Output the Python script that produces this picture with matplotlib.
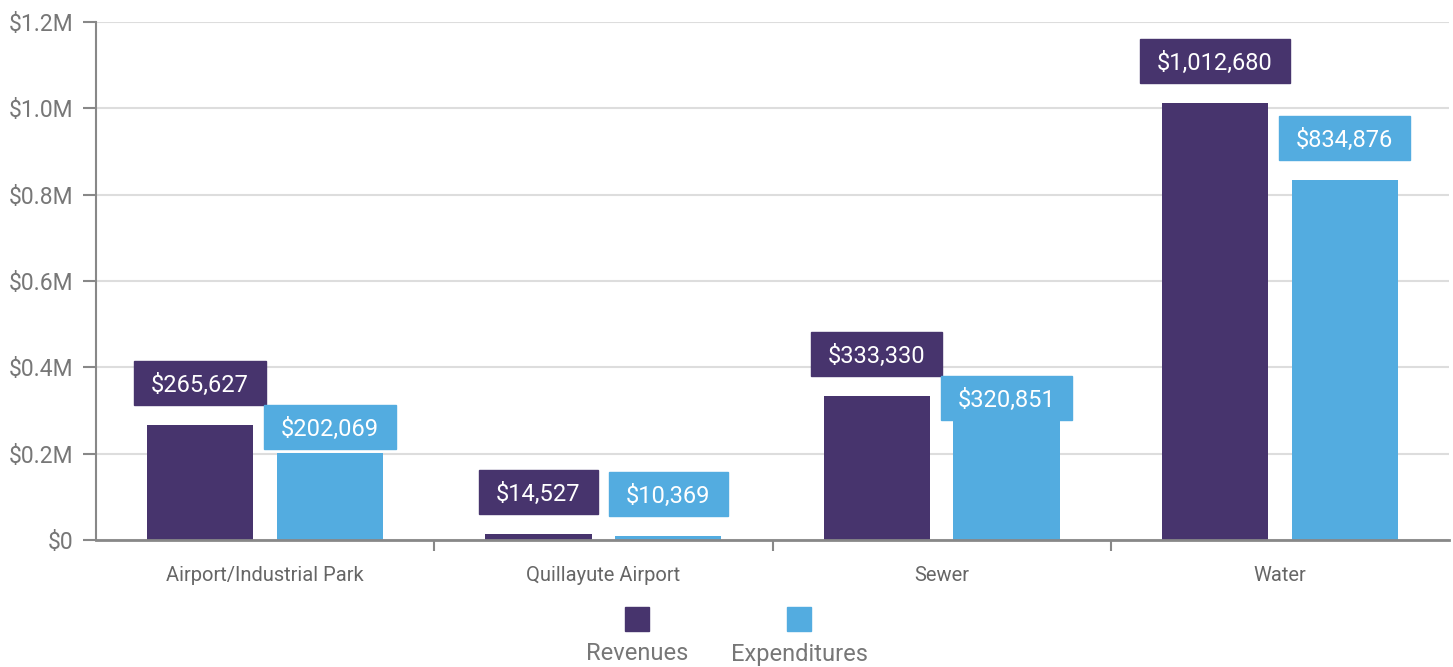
import numpy as np
import matplotlib
matplotlib.use("Agg")
import matplotlib.pyplot as plt
from matplotlib.patches import Rectangle

plt.rcParams["font.family"] = ["Roboto", "DejaVu Sans"]

categories = ["Airport/Industrial Park", "Quillayute Airport", "Sewer", "Water"]
revenues = [265627, 14527, 333330, 1012680]
expenditures = [202069, 10369, 320851, 834876]
series_names = ["Revenues", "Expenditures"]
yticks = [0, 200000, 400000, 600000, 800000, 1000000, 1200000]
ytick_labels = ["$0", "$0.2M", "$0.4M", "$0.6M", "$0.8M", "$1.0M", "$1.2M"]

REV_COLOR = "#47346d"
EXP_COLOR = "#53ace0"
GRID = "#dddddd"
AXIS = "#888888"
TEXT = "#777777"

fig = plt.figure(figsize=(14.53, 6.67), dpi=100)
ax = fig.add_axes([96 / 1453, 1 - 540 / 667, 1353 / 1453, 518 / 667])

x = np.arange(len(categories))
width = 0.314
off = 0.192
ax.bar(x - off, revenues, width, color=REV_COLOR, zorder=2)
ax.bar(x + off, expenditures, width, color=EXP_COLOR, zorder=2)

ax.set_xlim(-0.5, len(categories) - 0.5)
ax.set_ylim(0, 1200000)
ax.set_yticks(yticks)
ax.set_yticklabels(ytick_labels)
ax.yaxis.grid(True, color=GRID, linewidth=1.5, zorder=0)
ax.set_axisbelow(True)

ax.set_xticks(x)
ax.set_xticklabels(categories)
ax.set_xticks(x[:-1] + 0.5, minor=True)
ax.tick_params(axis="x", which="major", length=0, pad=19, labelsize=14.5, labelcolor="#666666")
ax.tick_params(axis="x", which="minor", length=8, width=1.5, color=AXIS, direction="out")
ax.tick_params(axis="y", length=9.5, width=1.5, color=AXIS, pad=7, labelsize=16.5, labelcolor=TEXT)

for s in ["top", "right"]:
    ax.spines[s].set_visible(False)
ax.spines["left"].set_color(AXIS)
ax.spines["left"].set_linewidth(1.5)
ax.spines["bottom"].set_color(AXIS)
ax.spines["bottom"].set_linewidth(2)

# value labels: boxes placed 20px above bars, expenditure box pushed
# down below the revenue box if they collide
renderer = fig.canvas.get_renderer()
inv = ax.transData.inverted()
PADX, BOXH, GAP = 17, 44, 20


def make_box(xc, val, label):
    t = ax.text(0, 0, label, fontsize=17, color="white")
    w = t.get_window_extent(renderer).width
    t.remove()
    px, py = ax.transData.transform((xc, val))
    return (px - w / 2 - PADX, py + GAP, w + 2 * PADX, BOXH)


def draw_box(box, label, color):
    x0, y0, bw, bh = box
    (dx0, dy0) = inv.transform((x0, y0))
    (dx1, dy1) = inv.transform((x0 + bw, y0 + bh))
    ax.add_patch(Rectangle((dx0, dy0), dx1 - dx0, dy1 - dy0, color=color,
                           zorder=3, clip_on=False))
    cx, cy = inv.transform((x0 + bw / 2, y0 + bh / 2))
    ax.text(cx, cy, label, fontsize=17, color="white", ha="center",
            va="center_baseline", zorder=4)


for i in range(len(categories)):
    rl = "${:,}".format(revenues[i])
    el = "${:,}".format(expenditures[i])
    rbox = make_box(x[i] - off, revenues[i], rl)
    ebox = make_box(x[i] + off, expenditures[i], el)
    # collision check
    if ebox[0] < rbox[0] + rbox[2] and ebox[1] + ebox[3] > rbox[1]:
        ebox = (ebox[0], rbox[1] - BOXH, ebox[2], ebox[3])
    draw_box(rbox, rl, REV_COLOR)
    draw_box(ebox, el, EXP_COLOR)

# legend: squares with names underneath
legend_x = [637 / 1453, 799 / 1453]
for lx, name, c in zip(legend_x, series_names, [REV_COLOR, EXP_COLOR]):
    fig.patches.append(Rectangle((lx - 12 / 1453, 1 - 631 / 667), 24 / 1453, 24 / 667,
                                 color=c, transform=fig.transFigure))
    fig.text(lx, 1 - 654 / 667, name, fontsize=17, color=TEXT,
             ha="center", va="center")

fig.savefig("out.png", dpi=100)
